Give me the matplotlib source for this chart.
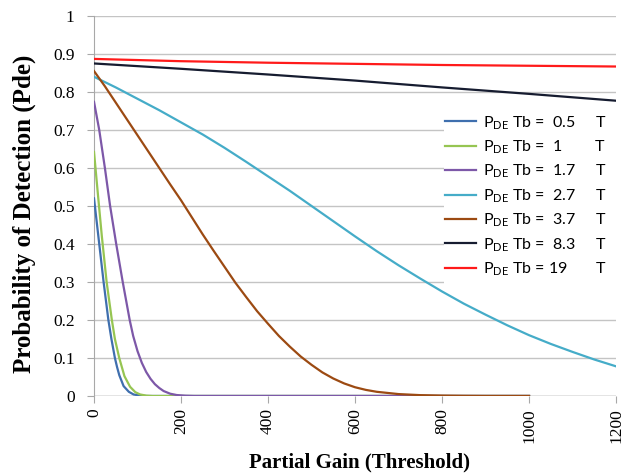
import numpy as np
import matplotlib.pyplot as plt
from matplotlib.patches import Rectangle

# values
gain_05 = [0, 6, 12, 22, 33, 40, 48, 53, 58, 68, 80, 91, 105, 120, 1000]
pde_05 = [0.52, 0.46, 0.40, 0.30, 0.20, 0.15, 0.10, 0.076, 0.055, 0.026, 0.011, 0.004, 0.001, 0, 0]

gain_1 = [0, 9, 18, 29, 41, 48, 58, 70, 83, 95, 106, 120, 135, 1000]
pde_1 = [0.642, 0.53, 0.42, 0.30, 0.20, 0.15, 0.10, 0.052, 0.024, 0.01, 0.004, 0.001, 0, 0]

gain_17 = [0, 12, 25, 37, 51, 66, 82, 90, 100, 110, 120, 130, 140, 150, 160, 175, 190, 210, 230, 1000]
pde_17 = [0.774, 0.70, 0.60, 0.50, 0.40, 0.30, 0.20, 0.158, 0.118, 0.087, 0.063, 0.045, 0.031,
          0.021, 0.013, 0.006, 0.0025, 0.0007, 0, 0]

gain_27 = [0, 50, 100, 150, 200, 250, 300, 350, 400, 450, 500, 550, 600, 650, 700, 750,
           800, 850, 900, 950, 1000, 1050, 1100, 1150, 1200]
pde_27 = [0.84, 0.812, 0.782, 0.752, 0.72, 0.688, 0.653, 0.616, 0.578, 0.54, 0.50, 0.46,
          0.42, 0.381, 0.344, 0.309, 0.275, 0.243, 0.214, 0.186, 0.16, 0.137, 0.116, 0.096, 0.078]

gain_37 = [0, 25, 50, 75, 100, 125, 150, 175, 200, 225, 250, 275, 300, 325, 350, 375, 400,
           425, 450, 475, 500, 525, 550, 575, 600, 625, 650, 700, 750, 800, 850, 900, 1000]
pde_37 = [0.855, 0.815, 0.772, 0.729, 0.686, 0.643, 0.60, 0.557, 0.515, 0.47, 0.425, 0.382,
          0.34, 0.298, 0.26, 0.223, 0.19, 0.158, 0.13, 0.104, 0.082, 0.062, 0.046, 0.033,
          0.023, 0.016, 0.011, 0.005, 0.0022, 0.001, 0.0004, 0.0001, 0]

gain_83 = [0, 200, 400, 600, 800, 1000, 1200]
pde_83 = [0.875, 0.861, 0.846, 0.83, 0.812, 0.795, 0.777]

gain_19 = [0, 200, 400, 600, 800, 1000, 1200]
pde_19 = [0.887, 0.881, 0.877, 0.874, 0.871, 0.869, 0.867]

labels = [r'P$_{\mathrm{DE}}$ Tb =  0.5     T',
          r'P$_{\mathrm{DE}}$ Tb =  1        T',
          r'P$_{\mathrm{DE}}$ Tb =  1.7     T',
          r'P$_{\mathrm{DE}}$ Tb =  2.7     T',
          r'P$_{\mathrm{DE}}$ Tb =  3.7     T',
          r'P$_{\mathrm{DE}}$ Tb =  8.3     T',
          r'P$_{\mathrm{DE}}$ Tb = 19       T']
colors = ['#3F6FAE', '#96C552', '#7D58A8', '#45ACC8', '#9C4A12', '#161C30', '#FF1A1A']

series = [(gain_05, pde_05), (gain_1, pde_1), (gain_17, pde_17), (gain_27, pde_27),
          (gain_37, pde_37), (gain_83, pde_83), (gain_19, pde_19)]

plt.rcParams['mathtext.fontset'] = 'custom'
plt.rcParams['mathtext.rm'] = 'Lato'

fig = plt.figure(figsize=(6.21, 4.74), dpi=100)
ax = fig.add_axes([0.1514, 0.1646, 0.8406, 0.8017])

for (x, y), c, lab in zip(series, colors, labels):
    ax.plot(x, y, color=c, lw=1.6, label=lab, zorder=3)

ax.set_xlim(0, 1200)
ax.set_ylim(0, 1)
ax.set_xticks(range(0, 1201, 200))
ax.set_yticks(np.arange(0, 1.01, 0.1))
ax.set_yticklabels(['0', '0.1', '0.2', '0.3', '0.4', '0.5', '0.6', '0.7', '0.8', '0.9', '1'])
ax.yaxis.grid(True, color='#C4C4C4', lw=1)
ax.set_axisbelow(True)
for s in ['top', 'right', 'bottom']:
    ax.spines[s].set_visible(False)
ax.spines['left'].set_color('#A8A8A8')
ax.tick_params(axis='y', length=5, color='#A8A8A8', labelsize=12.5, pad=9)
ax.tick_params(axis='x', length=5, color='#A8A8A8', labelsize=12.5, labelrotation=90, pad=4)
for t in ax.get_xticklabels() + ax.get_yticklabels():
    t.set_family('Liberation Serif')
ax.axhline(0, color='#A8A8A8', lw=1, zorder=2)

ax.set_xlabel('Partial Gain (Threshold)', family='Liberation Serif', fontweight='bold',
              fontsize=15)
ax.set_ylabel('Probability of Detection (Pde)', family='Liberation Serif', fontweight='bold',
              fontsize=18)
ax.xaxis.set_label_coords(0.508, -0.15)
ax.yaxis.set_label_coords(-0.112, 0.48)

# white box behind the legend hides the gridlines there
ax.add_patch(Rectangle((0.67, 0.292), 0.33, 0.461, transform=ax.transAxes,
                       facecolor='white', edgecolor='none', zorder=1))

leg = ax.legend(loc='upper left', bbox_to_anchor=(0.662, 0.757), frameon=False,
                handlelength=1.9, handletextpad=0.45, labelspacing=0.42,
                prop={'family': 'Lato', 'size': 11.5}, borderaxespad=0, borderpad=0.35)

fig.savefig('out.png', dpi=100)
